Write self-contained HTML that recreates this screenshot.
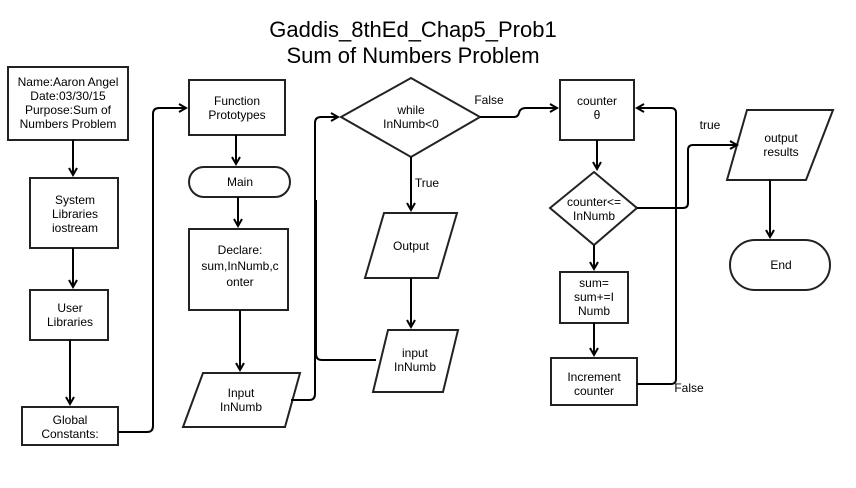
<!DOCTYPE html>
<html><head><meta charset="utf-8"><style>
html,body{margin:0;padding:0;background:#fff;}
svg{display:block;font-family:"Liberation Sans",Arial,sans-serif;}
</style></head><body>
<svg width="856" height="488" viewBox="0 0 856 488" xmlns="http://www.w3.org/2000/svg">
<defs>
<marker id="a" markerWidth="10" markerHeight="10" refX="8" refY="5" orient="auto" markerUnits="userSpaceOnUse">
<path d="M1,1 L8,5 L1,9" fill="none" stroke="#000" stroke-width="2"/>
</marker>
</defs>
<g text-anchor="middle" fill="#000">
<text x="413" y="37" font-size="22">Gaddis_8thEd_Chap5_Prob1</text>
<text x="413" y="63" font-size="22">Sum of Numbers Problem</text>
</g>
<g fill="#fff" stroke="#222" stroke-width="2">
<rect x="8" y="67" width="120" height="73"/>
<rect x="30" y="178" width="88" height="70"/>
<rect x="30" y="290" width="78" height="50"/>
<rect x="22" y="407" width="96" height="38"/>
<rect x="189" y="80" width="96" height="55"/>
<rect x="189" y="167" width="101" height="30" rx="15"/>
<rect x="189" y="229" width="99" height="81"/>
<polygon points="203,373 300,373 285,427 183,427"/>
<polygon points="341,117 411,78 480,117 411,157"/>
<polygon points="384,213 457,213 438,278 365,278"/>
<polygon points="388,330 458,330 443,392 373,392"/>
<rect x="560" y="80" width="74" height="60"/>
<polygon points="550,208 594,172 637,208 594,245"/>
<rect x="560" y="272" width="68" height="51"/>
<rect x="551" y="358" width="86" height="47"/>
<polygon points="747,110 833,110 806,180 727,180"/>
<rect x="730" y="240" width="100" height="50" rx="25"/>
</g>
<g fill="none" stroke="#000" stroke-width="2">
<path d="M73,140 V175" marker-end="url(#a)"/>
<path d="M73,248 V287" marker-end="url(#a)"/>
<path d="M70,340 V404" marker-end="url(#a)"/>
<path d="M118,432 H147 Q153,432 153,426 V114 Q153,108 159,108 H186" marker-end="url(#a)"/>
<path d="M236,135 V164" marker-end="url(#a)"/>
<path d="M238,197 V226" marker-end="url(#a)"/>
<path d="M240,310 V370" marker-end="url(#a)"/>
<path d="M291,400 H309 Q315,400 315,394 V123 Q315,117 321,117 H338" marker-end="url(#a)"/>
<path d="M376,360 H322 Q316,360 316,354 V200"/>
<path d="M411,157 V210" marker-end="url(#a)"/>
<path d="M411,278 V327" marker-end="url(#a)"/>
<path d="M480,117 H514 Q518,117 519,113 Q520,108 526,108 H557" marker-end="url(#a)"/>
<path d="M597,140 V169" marker-end="url(#a)"/>
<path d="M594,245 V269" marker-end="url(#a)"/>
<path d="M594,323 V355" marker-end="url(#a)"/>
<path d="M637,384 H671 Q676,384 676,379 V113 Q676,108 671,108 H637" marker-end="url(#a)"/>
<path d="M637,208 H683 Q688,208 688,203 V150 Q688,145 693,145 H737" marker-end="url(#a)"/>
<path d="M770,180 V237" marker-end="url(#a)"/>
</g>
<g font-size="12" text-anchor="middle" fill="#000">
<text x="68" y="86">Name:Aaron Angel</text>
<text x="68" y="100">Date:03/30/15</text>
<text x="68" y="114">Purpose:Sum of</text>
<text x="68" y="128">Numbers Problem</text>
<text x="75" y="204">System</text>
<text x="75" y="218">Libraries</text>
<text x="75" y="232">iostream</text>
<text x="70" y="312">User</text>
<text x="70" y="326">Libraries</text>
<text x="70" y="424">Global</text>
<text x="70" y="438">Constants:</text>
<text x="237" y="105">Function</text>
<text x="237" y="119">Prototypes</text>
<text x="240" y="186">Main</text>
<text x="240" y="254">Declare:</text>
<text x="240" y="270">sum,InNumb,c</text>
<text x="240" y="286">onter</text>
<text x="241" y="397">Input</text>
<text x="241" y="411">InNumb</text>
<text x="411" y="114">while</text>
<text x="411" y="128">InNumb&lt;0</text>
<text x="411" y="250">Output</text>
<text x="415" y="357">input</text>
<text x="415" y="371">InNumb</text>
<text x="597" y="105">counter</text>
<text x="597" y="119">θ</text>
<text x="594" y="206">counter&lt;=</text>
<text x="594" y="220">InNumb</text>
<text x="594" y="287">sum=</text>
<text x="594" y="301">sum+=I</text>
<text x="594" y="315">Numb</text>
<text x="594" y="381">Increment</text>
<text x="594" y="395">counter</text>
<text x="781" y="142">output</text>
<text x="781" y="156">results</text>
<text x="781" y="269">End</text>
<text x="489" y="104">False</text>
<text x="427" y="187">True</text>
<text x="710" y="129">true</text>
<text x="689" y="392">False</text>
</g>
</svg>
</body></html>
